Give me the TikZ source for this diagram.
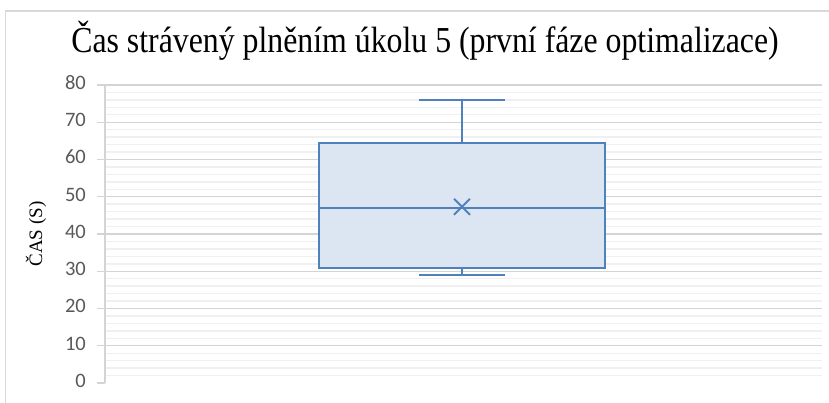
\documentclass[tikz,border=0pt]{standalone}
\usepackage{fontspec}
\setmainfont{Liberation Serif}
\newfontfamily\axisfont{Carlito}
\begin{document}
\begin{tikzpicture}[x=1pt,y=-1pt,
  frameline/.style={draw=black!15,line width=1.2pt},
  majorgrid/.style={draw=black!17,line width=1.4pt},
  minorgrid/.style={draw=black!6,line width=1.4pt},
  boxline/.style={draw=boxblue,line width=2pt},
  ticklab/.style={font=\axisfont\fontsize{20.5}{20}\selectfont,text=black!65,anchor=mid east,inner sep=0pt}]
\definecolor{boxblue}{HTML}{4F81BD}
\definecolor{boxfill}{HTML}{DCE6F2}
\useasboundingbox (0,0) rectangle (829,403);
% frame
\draw[frameline] (5.5,403) -- (5.5,11) -- (829,11);
% title
\node[anchor=base,inner sep=0pt] (title) at (425,53) {\scalebox{1}[1.15]{\fontsize{31.8}{32}\selectfont Čas strávený plněním úkolu 5 (první fáze optimalizace)}};
% minor grid
\foreach \v in {2,4,...,78}{
  \draw[minorgrid] (105,{383-3.725*\v}) -- (822,{383-3.725*\v});
}
% major grid and labels
\foreach \v in {10,20,...,80}{
  \draw[majorgrid] (97,{383-3.725*\v}) -- (822,{383-3.725*\v});
}
\foreach \v in {0,10,...,80}{
  \node[ticklab] (l\v) at (86,{385-3.725*\v}) {\v};
}
\draw[majorgrid] (97,383) -- (105,383);
\draw[majorgrid] (105,383) -- (105,85);
% y title
\node[rotate=90,inner sep=0pt,font=\fontsize{19}{19}\selectfont] (ytitle) at (36,234) {ČAS (S)};
% box plot
\coordinate (wt) at (462,{383-3.725*76});
\coordinate (wb) at (462,{383-3.725*29});
\coordinate (q3) at (462,{383-3.725*64.4});
\coordinate (q1) at (462,{383-3.725*31});
\draw[boxline] (wt) -- (q3);
\draw[boxline] (wb) -- (q1);
\draw[boxline] ([xshift=-43pt]wt) -- ([xshift=43pt]wt);
\draw[boxline] ([xshift=-43pt]wb) -- ([xshift=43pt]wb);
\filldraw[boxline,fill=boxfill] (319,{383-3.725*64.4}) rectangle (605,{383-3.725*31});
\draw[boxline] (319,{383-3.725*47}) -- (605,{383-3.725*47});
\coordinate (mean) at (462,{383-3.725*47.3});
\draw[boxline] ([shift={(-8,-8)}]mean) -- ([shift={(8,8)}]mean);
\draw[boxline] ([shift={(-8,8)}]mean) -- ([shift={(8,-8)}]mean);
\end{tikzpicture}
\end{document}
